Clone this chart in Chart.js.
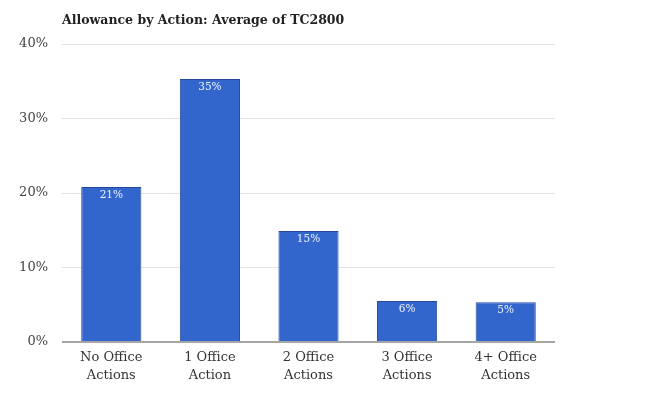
<!DOCTYPE html>
<html>
<head>
<meta charset="utf-8">
<script src="https://cdn.jsdelivr.net/npm/chart.js@4/dist/chart.umd.min.js"></script>
<style>
html,body{margin:0;padding:0;background:#fff;}
#wrap{width:650px;height:401px;position:relative;}
</style>
</head>
<body>
<div id="wrap"><canvas id="c" width="650" height="401"></canvas></div>
<script>
const chartTitle = "Allowance by Action: Average of TC2800";
const categories = [["No Office","Actions"],["1 Office","Action"],["2 Office","Actions"],["3 Office","Actions"],["4+ Office","Actions"]];
const values = [20.8, 35.3, 14.9, 5.5, 5.35];
const valueLabels = ["21%","35%","15%","6%","5%"];
const yTicks = [0, 10, 20, 30, 40];

const FONT = "'DejaVu Serif', 'Liberation Serif', serif";

const titlePlugin = {
  id: 'leftTitle',
  afterDraw(chart) {
    const ctx = chart.ctx;
    ctx.save();
    ctx.font = "bold 12.5px " + FONT;
    ctx.fillStyle = '#222';
    ctx.textBaseline = 'alphabetic';
    ctx.textAlign = 'left';
    ctx.fillText(chartTitle, chart.chartArea.left, 24);
    ctx.restore();
  }
};

const labelPlugin = {
  id: 'barLabels',
  afterDatasetsDraw(chart) {
    const ctx = chart.ctx;
    const meta = chart.getDatasetMeta(0);
    ctx.save();
    ctx.font = "10.5px " + FONT;
    ctx.fillStyle = '#eef3ff';
    ctx.textAlign = 'center';
    ctx.textBaseline = 'top';
    meta.data.forEach((bar, i) => {
      ctx.fillText(valueLabels[i], bar.x, bar.y + 3);
    });
    ctx.restore();
  }
};

new Chart(document.getElementById('c'), {
  type: 'bar',
  data: {
    labels: categories,
    datasets: [{
      data: values,
      backgroundColor: '#3366cc',
      borderColor: '#23489c',
      borderWidth: 1,
      barPercentage: 0.61,
      categoryPercentage: 1.0
    }]
  },
  options: {
    responsive: false,
    animation: false,
    layout: { padding: { left: 0, right: 95, top: 44, bottom: 0 } },
    plugins: {
      legend: { display: false },
      title: { display: false },
      tooltip: { enabled: false }
    },
    scales: {
      y: {
        min: 0, max: 40,
        afterBuildTicks(scale) { scale.ticks = yTicks.map(v => ({ value: v })); },
        afterFit(scale) { scale.width = 62; },
        ticks: {
          padding: 14,
          color: '#444',
          font: { family: FONT, size: 13 },
          callback: v => v + '%'
        },
        grid: {
          drawTicks: false,
          color: ctx => ctx.tick && ctx.tick.value === 0 ? '#a6a6a6' : '#e3e3e3',
          lineWidth: ctx => ctx.tick && ctx.tick.value === 0 ? 2 : 1
        },
        border: { display: false }
      },
      x: {
        afterFit(scale) { scale.height = 59; },
        ticks: {
          padding: 7,
          color: '#333',
          font: { family: FONT, size: 13, lineHeight: 1.35 },
          maxRotation: 0,
          autoSkip: false
        },
        grid: { display: false, drawTicks: false },
        border: { display: false }
      }
    }
  },
  plugins: [titlePlugin, labelPlugin]
});
</script>
</body>
</html>
